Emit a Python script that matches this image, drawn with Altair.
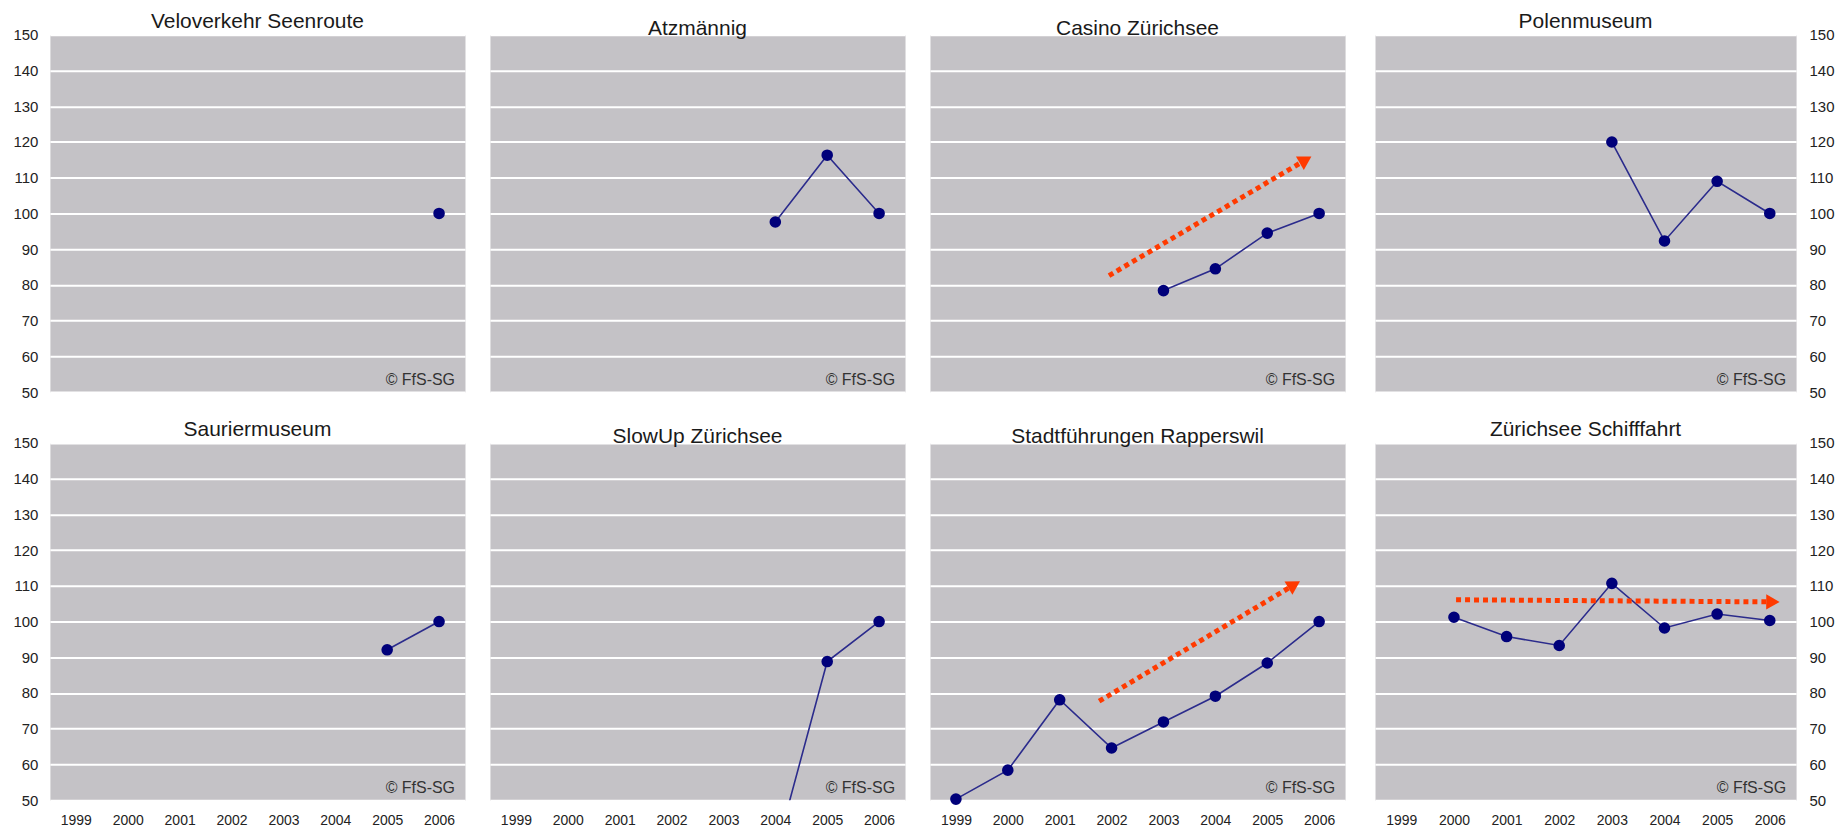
import math
import altair as alt
import pandas as pd

# ---------------- data ----------------
years = [1999, 2000, 2001, 2002, 2003, 2004, 2005, 2006]
y_ticks = [50, 60, 70, 80, 90, 100, 110, 120, 130, 140, 150]

titles = [
    "Veloverkehr Seenroute", "Atzmännig", "Casino Zürichsee", "Polenmuseum",
    "Sauriermuseum", "SlowUp Zürichsee", "Stadtführungen Rapperswil", "Zürichsee Schifffahrt",
]
veloverkehr = [None, None, None, None, None, None, None, 100]
atzmaennig = [None, None, None, None, None, 97.6, 116.3, 100]
casino = [None, None, None, None, 78.4, 84.5, 94.5, 100]
polen = [None, None, None, None, 120, 92.3, 109, 100]
saurier = [None, None, None, None, None, None, 92.1, 100]
slowup = [None, None, None, None, None, 35, 88.8, 100]
stadt = [50.3, 58.4, 78.1, 64.6, 71.9, 79.1, 88.4, 100]
schiff = [None, 101.2, 95.8, 93.3, 110.7, 98.2, 102.1, 100.3]
series = [veloverkehr, atzmaennig, casino, polen, saurier, slowup, stadt, schiff]

# trend arrows (red dotted) drawn in data coordinates
arrow_panel = ["Casino Zürichsee", "Stadtführungen Rapperswil", "Zürichsee Schifffahrt"]
arrow_x_start = [2001.95, 2001.76, 2000.04]
arrow_y_start = [82.6, 77.7, 106.1]
arrow_x_end = [2005.74, 2005.52, 2006.06]
arrow_y_end = [115.0, 110.3, 105.5]

copyright_text = "© FfS-SG"

# ---------------- style ----------------
FONT = "Liberation Sans"
BG = "#c4c2c6"
NAVY = "#00007a"
LINE = "#2b2b8c"
RED = "#ff3a00"
PANEL_W = [416, 416, 416, 422]
PANEL_H = 358

XSCALE = alt.Scale(domain=[1998.5, 2006.5], nice=False, zero=False)
YSCALE = alt.Scale(domain=[50, 150], nice=False, zero=False)


def panel(i):
    row, col = divmod(i, 4)
    w = PANEL_W[col]
    h = PANEL_H
    df = pd.DataFrame({"Jahr": years, "Index": series[i]}).dropna()

    if row == 1:
        x_axis = alt.Axis(values=years, format="d", ticks=False, domain=False, grid=False,
                          labelFontSize=14, labelPadding=13, labelColor="#222222",
                          labelFont=FONT, labelOverlap=False)
    else:
        x_axis = None

    common_y = dict(values=y_ticks, ticks=False, domain=False, grid=True,
                    gridColor="white", gridWidth=2, gridOpacity=1, labelOverlap=False,
                    labelFontSize=15, labelColor="#222222", labelFont=FONT)
    if col == 0:
        y_axis = alt.Axis(orient="left", labelPadding=12, **common_y)
    elif col == 3:
        y_axis = alt.Axis(orient="right", labelPadding=13, labelAlign="left", **common_y)
    else:
        y_axis = alt.Axis(labels=False, **common_y)

    def X(field):
        return alt.X(field, scale=XSCALE, axis=x_axis, title=None)

    def Y(field):
        return alt.Y(field, scale=YSCALE, axis=y_axis, title=None)

    base = alt.Chart(df).encode(x=X("Jahr:Q"), y=Y("Index:Q"))
    line = base.mark_line(color=LINE, strokeWidth=1.6, clip=True)
    pts = base.transform_filter("datum.Index >= 50").mark_circle(
        size=135, color=NAVY, opacity=1)
    layers = [line, pts]

    if titles[i] in arrow_panel:
        k = arrow_panel.index(titles[i])
        adf = pd.DataFrame({
            "xs": [arrow_x_start[k]], "ys": [arrow_y_start[k]],
            "xe": [arrow_x_end[k]], "ye": [arrow_y_end[k]],
        })
        # direction of the arrow in pixel space -> rotation of the head
        dx = (arrow_x_end[k] - arrow_x_start[k]) * w / 8.0
        dy = (arrow_y_end[k] - arrow_y_start[k]) * h / 100.0
        ang = (-math.degrees(math.atan2(dy, dx))) % 360
        rule = alt.Chart(adf).mark_rule(
            color=RED, strokeWidth=5, strokeDash=[5, 4], strokeCap="butt"
        ).encode(x=X("xs:Q"), y=Y("ys:Q"), x2="xe:Q", y2="ye:Q")
        head = alt.Chart(adf).mark_point(
            shape="triangle-right", filled=True, size=240, color=RED, opacity=1,
            angle=round(ang, 1),
        ).encode(x=X("xe:Q"), y=Y("ye:Q"))
        layers += [rule, head]

    txt = alt.Chart(pd.DataFrame({"t": [copyright_text]})).mark_text(
        align="right", baseline="alphabetic", fontSize=16, font=FONT, color="#333333"
    ).encode(x=alt.value(w - 10), y=alt.value(h - 7), text="t:N")
    layers.append(txt)

    return alt.layer(*layers).properties(
        width=w, height=h,
        title=alt.TitleParams(titles[i], fontSize=21, font=FONT, fontWeight="normal",
                              color="#1a1a1a", offset=-4, anchor="middle"),
    )


panels = [panel(i) for i in range(8)]
top = alt.hconcat(alt.hconcat(*panels[0:3], spacing=23), panels[3], spacing=28)
bottom = alt.hconcat(alt.hconcat(*panels[4:7], spacing=23), panels[7], spacing=28)

chart = alt.vconcat(top, bottom, spacing=17).properties(
    padding={"left": 4, "top": 1, "right": 0, "bottom": 0},
    background="white",
).configure_view(fill=BG, stroke="transparent")

chart.save("out.html", embed_options={"renderer": "svg", "actions": False})
